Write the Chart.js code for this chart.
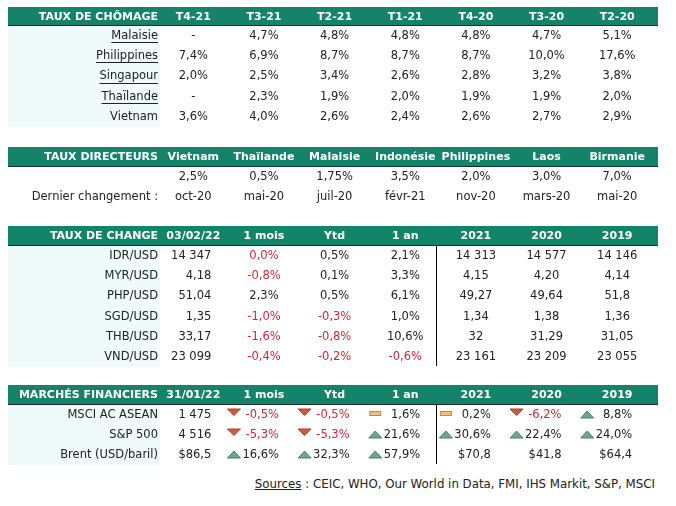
<!DOCTYPE html>
<html>
<head>
<meta charset="utf-8">
<script src="https://cdn.jsdelivr.net/npm/chart.js@4.4.1/dist/chart.umd.min.js"></script>
<style>
  body { margin: 0; background: #fff; width: 676px; height: 506px; position: relative; overflow: hidden; font-family: "DejaVu Sans", Verdana, sans-serif; }
  canvas { position: absolute; left: 8px; }
  #sources { position: absolute; right: 21px; top: 477px; font-size: 11.8px; color: #222; white-space: nowrap; }
</style>
</head>
<body>
<canvas id="chomage" width="650" height="120" style="top:7px"></canvas>
<canvas id="directeurs" width="650" height="60" style="top:147px"></canvas>
<canvas id="change" width="650" height="141" style="top:226px"></canvas>
<canvas id="marches" width="650" height="80" style="top:385px"></canvas>
<div id="sources"><u>Sources</u> : CEIC, WHO, Our World in Data, FMI, IHS Markit, S&amp;P, MSCI</div>

<script>
// --- taux de chômage ---
const chomageCols = ["T4-21", "T3-21", "T2-21", "T1-21", "T4-20", "T3-20", "T2-20"];
const chomageRows = ["Malaisie", "Philippines", "Singapour", "Thaïlande", "Vietnam"];
const chomageValues = [
    ["-", "4,7%", "4,8%", "4,8%", "4,8%", "4,7%", "5,1%"],
    ["7,4%", "6,9%", "8,7%", "8,7%", "8,7%", "10,0%", "17,6%"],
    ["2,0%", "2,5%", "3,4%", "2,6%", "2,8%", "3,2%", "3,8%"],
    ["-", "2,3%", "1,9%", "2,0%", "1,9%", "1,9%", "2,0%"],
    ["3,6%", "4,0%", "2,6%", "2,4%", "2,6%", "2,7%", "2,9%"],
];

// --- taux directeurs ---
const directeursCols = ["Vietnam", "Thaïlande", "Malaisie", "Indonésie", "Philippines", "Laos", "Birmanie"];
const directeursRows = ["", "Dernier changement :"];
const directeursValues = [
    ["2,5%", "0,5%", "1,75%", "3,5%", "2,0%", "3,0%", "7,0%"],
    ["oct-20", "mai-20", "juil-20", "févr-21", "nov-20", "mars-20", "mai-20"],
];

// --- taux de change ---
const changeCols = ["03/02/22", "1 mois", "Ytd", "1 an", "2021", "2020", "2019"];
const changeRows = ["IDR/USD", "MYR/USD", "PHP/USD", "SGD/USD", "THB/USD", "VND/USD"];
const changeValues = [
    ["14 347", "0,0%", "0,5%", "2,1%", "14 313", "14 577", "14 146"],
    ["4,18", "-0,8%", "0,1%", "3,3%", "4,15", "4,20", "4,14"],
    ["51,04", "2,3%", "0,5%", "6,1%", "49,27", "49,64", "51,8"],
    ["1,35", "-1,0%", "-0,3%", "1,0%", "1,34", "1,38", "1,36"],
    ["33,17", "-1,6%", "-0,8%", "10,6%", "32", "31,29", "31,05"],
    ["23 099", "-0,4%", "-0,2%", "-0,6%", "23 161", "23 209", "23 055"],
];

// --- marchés financiers ---
const marchesCols = ["31/01/22", "1 mois", "Ytd", "1 an", "2021", "2020", "2019"];
const marchesRows = ["MSCI AC ASEAN", "S&P 500", "Brent (USD/baril)"];
const marchesValues = [
    ["1 475", "-0,5%", "-0,5%", "1,6%", "0,2%", "-6,2%", "8,8%"],
    ["4 516", "-5,3%", "-5,3%", "21,6%", "30,6%", "22,4%", "24,0%"],
    ["$86,5", "16,6%", "32,3%", "57,9%", "$70,8", "$41,8", "$64,4"],
];
const marchesTrend = [
    ["", "down", "down", "flat", "flat", "down", "up"],
    ["", "down", "down", "up", "up", "up", "up"],
    ["", "up", "up", "up", "", "", ""],
];

const HEAD_BG = "#14836a";
const LABEL_BG = "#eefbfa";
const TEXT = "#222";
const RED = "#c62a3a";
const FONT = '"DejaVu Sans", Verdana, sans-serif';

function toNumber(s) {
    return parseFloat(s.replace(/[\s$%]/g, "").replace(",", "."));
}

function drawTrend(ctx, kind, x, y) {
    ctx.save();
    ctx.lineWidth = 1;
    if (kind === "up") {
        ctx.fillStyle = "#6fa58c";
        ctx.strokeStyle = "#4f806b";
        ctx.beginPath();
        ctx.moveTo(x - 6.5, y + 3);
        ctx.lineTo(x + 6.5, y + 3);
        ctx.lineTo(x, y - 4);
        ctx.closePath();
        ctx.fill();
        ctx.stroke();
    } else if (kind === "down") {
        ctx.fillStyle = "#cf5b3b";
        ctx.strokeStyle = "#a9442b";
        ctx.beginPath();
        ctx.moveTo(x - 6.5, y - 6);
        ctx.lineTo(x + 6.5, y - 6);
        ctx.lineTo(x, y + 0.5);
        ctx.closePath();
        ctx.fill();
        ctx.stroke();
    } else if (kind === "flat") {
        ctx.fillStyle = "#f0c27a";
        ctx.strokeStyle = "#b98b45";
        ctx.fillRect(x - 5.5, y - 3.5, 11, 4);
        ctx.strokeRect(x - 5.5, y - 3.5, 11, 4);
    }
    ctx.restore();
}

// draws header band, label column and every cell at the positions given by the scales
const tablePlugin = {
    id: "tableCells",
    beforeDatasetsDraw(chart, args, o) {
        const { ctx, chartArea: a, scales: { x, y } } = chart;
        const W = chart.width;
        ctx.save();
        if (o.labelBg) {
            ctx.fillStyle = LABEL_BG;
            ctx.fillRect(0, a.top, a.left + 2, a.bottom - a.top);
        }
        ctx.fillStyle = HEAD_BG;
        ctx.fillRect(0, 0, W, a.top);
        ctx.fillStyle = "#1d2d28";
        ctx.fillRect(0, a.top - 1, W, 1);

        ctx.font = "bold 11px " + FONT;
        ctx.fillStyle = "#fff";
        ctx.textBaseline = "middle";
        ctx.textAlign = "right";
        ctx.fillText(o.title, a.left, a.top / 2 + 0.5);
        ctx.textAlign = "center";
        x.getLabels().forEach((c, i) => ctx.fillText(c, x.getPixelForValue(i), a.top / 2 + 0.5));

        ctx.font = "11.5px " + FONT;
        ctx.fillStyle = TEXT;
        ctx.textAlign = "right";
        y.getLabels().forEach((r, j) => {
            const py = y.getPixelForValue(j);
            const lx = a.left;
            ctx.fillText(r, lx, py);
            if (o.underline && o.underline[j]) {
                const w = ctx.measureText(r).width;
                ctx.fillRect(lx - w, Math.round(py) + 6, w, 1);
            }
        });

        if (o.split != null) {
            const sx = Math.round((x.getPixelForValue(o.split - 1) + x.getPixelForValue(o.split)) / 2) - 4.5;
            ctx.beginPath();
            ctx.moveTo(sx, a.top);
            ctx.lineTo(sx, a.bottom - 1);
            ctx.strokeStyle = "#000";
            ctx.lineWidth = 1;
            ctx.stroke();
        }

        const ds = chart.data.datasets[0];
        chart.getDatasetMeta(0).data.forEach((pt, k) => {
            const d = ds.data[k];
            const n = toNumber(d.t);
            ctx.fillStyle = o.redNeg && d.c > 0 && !d.t.startsWith("$") && n <= 0 ? RED : TEXT;
            if (o.rightFirst && d.c === 0) {
                ctx.textAlign = "right";
                ctx.fillText(d.t, pt.x + 18, pt.y);
            } else if (o.trend) {
                ctx.textAlign = "right";
                ctx.fillText(d.t, pt.x + 15, pt.y);
                drawTrend(ctx, o.trend[d.r][d.c], pt.x - 30, pt.y);
            } else {
                ctx.textAlign = "center";
                ctx.fillText(d.t, pt.x, pt.y);
            }
        });
        ctx.restore();
    },
};

function makeTable(id, title, cols, rows, values, extra) {
    const cells = [];
    rows.forEach((r, j) => cols.forEach((c, i) => cells.push({ x: c, y: r, t: values[j][i], r: j, c: i })));
    const headH = extra.headH || 20;
    return new Chart(document.getElementById(id), {
        type: "scatter",
        data: {
            datasets: [{ data: cells, pointRadius: 0, pointHoverRadius: 0 }],
        },
        options: {
            responsive: false,
            animation: false,
            events: [],
            layout: { padding: { left: 150, right: 5.5, top: headH, bottom: 0 } },
            scales: {
                x: { type: "category", labels: cols, offset: true, display: false },
                y: { type: "category", labels: rows, offset: true, display: false },
            },
            plugins: {
                legend: { display: false },
                tooltip: { enabled: false },
                tableCells: Object.assign({ title: title }, extra),
            },
        },
        plugins: [tablePlugin],
    });
}

makeTable("chomage", "TAUX DE CHÔMAGE", chomageCols, chomageRows, chomageValues,
    { headH: 19, labelBg: true, underline: [true, true, true, true, false] });
makeTable("directeurs", "TAUX DIRECTEURS", directeursCols, directeursRows, directeursValues,
    { headH: 20, labelBg: false });
makeTable("change", "TAUX DE CHANGE", changeCols, changeRows, changeValues,
    { headH: 20, labelBg: true, rightFirst: true, redNeg: true, split: 4 });
makeTable("marches", "MARCHÉS FINANCIERS", marchesCols, marchesRows, marchesValues,
    { headH: 20, labelBg: true, rightFirst: true, redNeg: true, split: 4, trend: marchesTrend });
</script>
</body>
</html>
